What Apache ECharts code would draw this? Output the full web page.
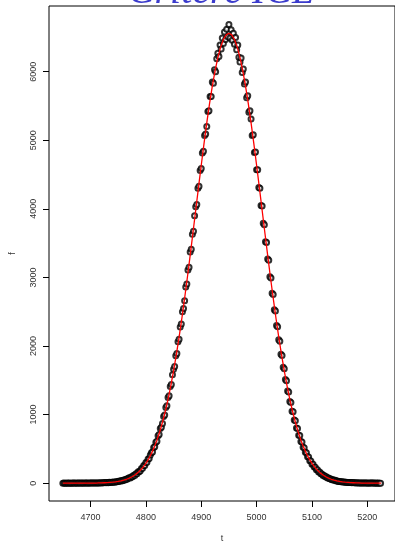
<!DOCTYPE html>
<html>
<head>
<meta charset="utf-8">
<script src="https://cdn.jsdelivr.net/npm/echarts@6/dist/echarts.min.js"></script>
<style>
html,body{margin:0;padding:0;background:#fff;}
#chart{width:395px;height:548px;}
</style>
</head>
<body>
<div id="chart"></div>
<script>
// Title and axis names
const TITLE = "Critère ICL";
const X_NAME = "t";
const Y_NAME = "f";

// Tick labels
const X_TICKS = [4700, 4800, 4900, 5000, 5100, 5200];
const Y_TICKS = [0, 1000, 2000, 3000, 4000, 5000, 6000];

// Observed points: t sampled from 4650 every 2 units
const POINT_T_START = 4650;
const POINT_T_STEP = 2;
const pointF = [
  0,1,0,0,1,0,1,0,0,1,1,0,1,0,1,1,0,1,1,0,
  1,2,1,0,2,1,3,1,2,2,
  3,2,4,3,5,3,6,5,8,6,
  9,7,12,11,15,13,18,15,22,19,
  23,31,29,38,36,47,45,58,56,70,
  78,76,95,93,115,112,138,139,165,168,
  180,213,218,256,259,301,305,352,360,412,
  442,455,521,530,598,611,690,708,796,815,
  871,972,995,1105,1130,1250,1276,1410,1438,1580,
  1660,1701,1859,1890,2063,2098,2276,2320,2501,2547,
  2660,2862,2905,3110,3150,3371,3410,3630,3672,3898,
  4030,4065,4300,4330,4560,4590,4815,4840,5070,5090,
  5200,5420,5430,5640,5640,5850,5830,6030,6000,6190,
  6270,6220,6390,6330,6490,6410,6580,6470,6620,6510,
  6690,6490,6610,6460,6560,6400,6500,6320,6390,6210,
  6140,6200,5990,6040,5820,5850,5620,5650,5410,5430,
  5310,5070,5080,4820,4830,4570,4570,4310,4300,4050,
  4040,3790,3770,3520,3510,3270,3250,3010,2990,2770,
  2750,2530,2510,2300,2280,2090,2070,1880,1860,1690,
  1670,1510,1495,1345,1330,1190,1175,1050,1040,920,
  910,805,798,700,695,606,601,525,518,451,
  445,386,381,328,324,277,275,234,231,197,
  194,164,163,137,135,113,112,93,92,76,
  76,63,62,51,50,41,41,33,33,26,
  26,21,21,17,17,13,14,11,10,8,
  9,6,8,5,6,4,5,3,4,2,
  2,3,1,2,1,2,0,1,1,1,
  1,1,0,1,0,1,0,0
];

// Fitted curve: t sampled from 4650 every 5 units
const CURVE_T_START = 4650;
const CURVE_T_STEP = 5;
const curveF = [
  0,0,0,0,0,0,0,1,1,1,1,1,
  2,3,4,6,8,11,14,19,25,33,
  44,57,73,93,119,150,187,233,288,354,
  431,522,627,749,888,1045,1222,1419,1636,1873,
  2130,2405,2697,3003,3322,3648,3979,4310,4636,4952,
  5253,5534,5789,6015,6205,6358,6470,6537,
  6560,
  6537,6470,6358,6205,6015,5789,5534,5253,4952,4636,
  4310,3979,3648,3322,3003,2697,2405,2130,1873,1636,
  1419,1222,1045,888,749,627,522,431,354,288,
  233,187,150,119,93,73,57,44,33,25,
  19,14,11,8,6,4,3,2,2,1,
  1,1,0,0,0
];

const pointData = pointF.map((f, i) => [POINT_T_START + i * POINT_T_STEP, f]);
const curveData = curveF.map((f, i) => [CURVE_T_START + i * CURVE_T_STEP, f]);

const chart = echarts.init(document.getElementById('chart'), null, {renderer: 'canvas'});
const labelStyle = {color: '#333', fontSize: 9, fontFamily: 'Liberation Sans, Arial, sans-serif'};
const plain = v => String(v);

chart.setOption({
  animation: false,
  backgroundColor: '#fff',
  grid: {
    left: 49, top: 6, width: 350, height: 499,
    show: true, borderColor: '#000', borderWidth: 1, backgroundColor: 'transparent'
  },
  graphic: [{
    type: 'text',
    z: 100,
    x: 221, y: 12,
    style: {
      text: TITLE,
      fill: '#3b3bcc',
      font: 'italic 40px "Liberation Serif", "DejaVu Serif", serif',
      textAlign: 'center',
      textVerticalAlign: 'bottom'
    }
  }],
  xAxis: {
    type: 'value',
    min: 4625, max: 5250,
    name: X_NAME, nameLocation: 'middle', nameGap: 33,
    nameTextStyle: labelStyle,
    axisLine: {show: false, onZero: false},
    axisTick: {show: true, length: 6, lineStyle: {color: '#000'}, customValues: X_TICKS},
    axisLabel: Object.assign({margin: 12, customValues: X_TICKS, formatter: plain}, labelStyle),
    splitLine: {show: false}
  },
  yAxis: {
    type: 'value',
    min: -260, max: 6958,
    name: Y_NAME, nameLocation: 'middle', nameGap: 32, nameRotate: 90,
    nameTextStyle: labelStyle,
    axisLine: {show: false, onZero: false},
    axisTick: {show: true, length: 6, lineStyle: {color: '#000'}, customValues: Y_TICKS},
    axisLabel: Object.assign({margin: 11, rotate: 90, customValues: Y_TICKS, formatter: plain}, labelStyle),
    splitLine: {show: false}
  },
  series: [
    {
      type: 'scatter',
      data: pointData,
      symbol: 'emptyCircle',
      symbolSize: 5,
      itemStyle: {color: '#000', borderColor: '#000', borderWidth: 0.8},
      z: 2,
      silent: true
    },
    {
      type: 'line',
      data: curveData,
      showSymbol: false,
      symbol: 'none',
      lineStyle: {color: '#ff0000', width: 1.3},
      z: 3,
      silent: true
    }
  ]
});
</script>
</body>
</html>
